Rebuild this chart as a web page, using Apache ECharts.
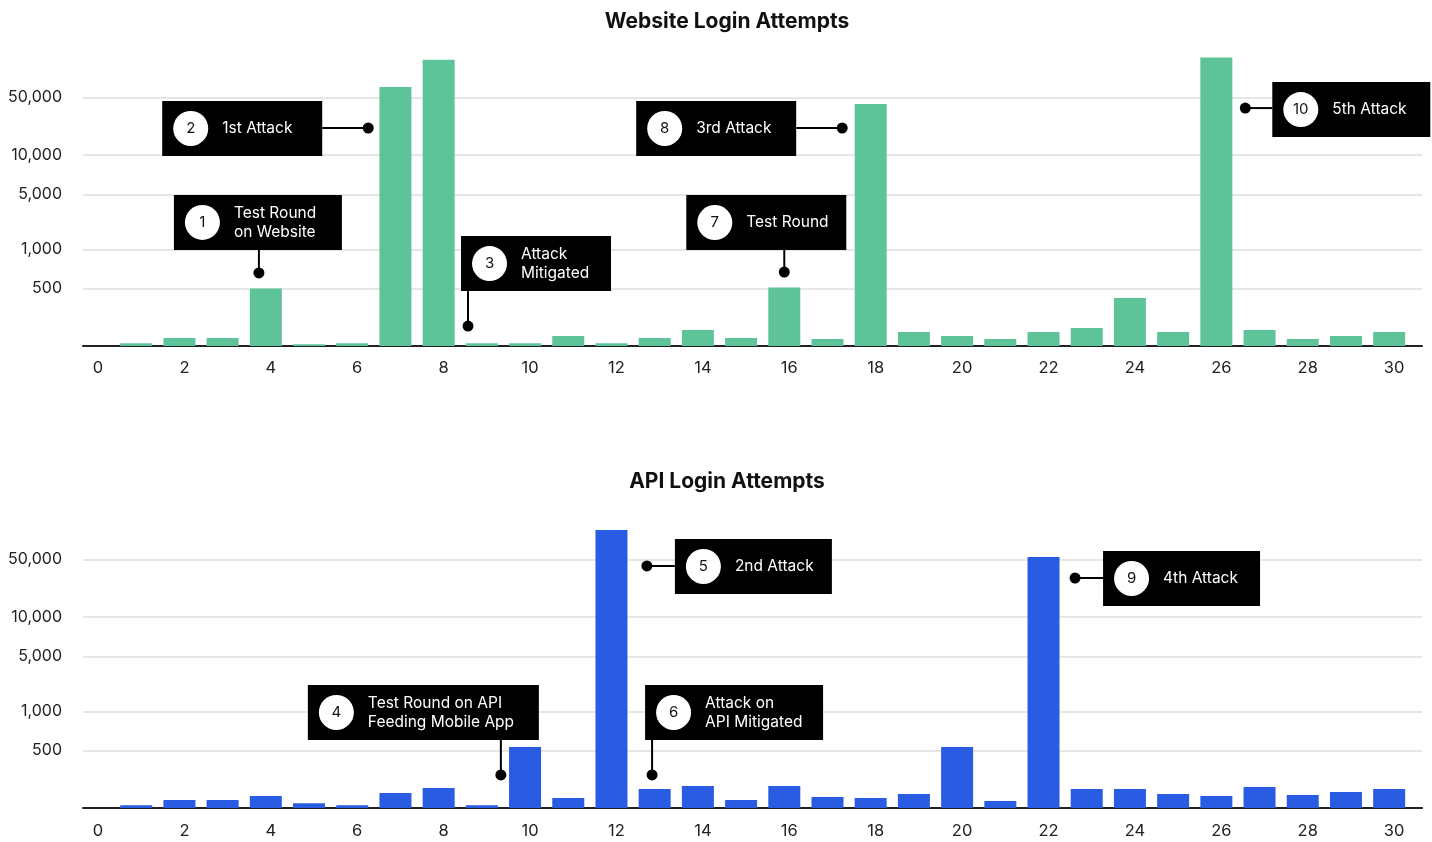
<!DOCTYPE html>
<html>
<head>
<meta charset="utf-8">
<title>Login Attempts</title>
<script src="https://cdn.jsdelivr.net/npm/echarts@6.0.0/dist/echarts.min.js"></script>
<style>
  html, body { margin: 0; padding: 0; background: #fff; }
  #chart { width: 1432px; height: 842px; }
</style>
</head>
<body>
<div id="chart"></div>
<script>
// day of the month
const days = [1, 2, 3, 4, 5, 6, 7, 8, 9, 10, 11, 12, 13, 14, 15, 16, 17, 18, 19, 20, 21, 22, 23, 24, 25, 26, 27, 28, 29, 30];
// login attempts per day
const websiteAttempts = [98, 114, 114, 500, 95, 98, 60300, 98000, 98, 98, 121, 98, 114, 145, 114, 510, 111, 41700, 137, 121, 111, 137, 154, 377, 137, 102000, 145, 111, 121, 137];
const apiAttempts = [98, 114, 114, 129, 104, 98, 141, 163, 98, 532, 121, 84500, 159, 174, 114, 174, 125, 121, 137, 532, 111, 52300, 159, 159, 137, 129, 168, 133, 145, 159];
// tick labels
const xTicks = [0, 2, 4, 6, 8, 10, 12, 14, 16, 18, 20, 22, 24, 26, 28, 30];
const yTicks = [500, 1000, 5000, 10000, 50000];

// the original y axis is log-like but each step between ticks has its own height,
// so the scale is a log interpolation between these steps (height in px of plot)
const scaleValues = [90, 500, 1000, 5000, 10000, 50000, 100000];
const scaleHeights = [0, 57.5, 96.5, 151.5, 191, 248.5, 287.5];
function ladder(v) {
  const lv = Math.log10(v);
  let i = 0;
  while (i < scaleValues.length - 2 && lv > Math.log10(scaleValues[i + 1])) i++;
  const a = Math.log10(scaleValues[i]), b = Math.log10(scaleValues[i + 1]);
  const h = scaleHeights[i] + (lv - a) / (b - a) * (scaleHeights[i + 1] - scaleHeights[i]);
  return Math.max(0, h);
}

// callouts: anchor = [day, attempts], box = offset/size in px from the anchor dot
const notes = [
  { grid: 0, num: '1', text: 'Test Round\non Website', at: [3.84, 660], box: [-85, -78, 168, 55] },
  { grid: 0, num: '2', text: '1st Attack', at: [6.37, 21300], box: [-206, -27, 160, 55] },
  { grid: 0, num: '3', text: 'Attack\nMitigated', at: [8.68, 163], box: [-7, -90, 150, 55] },
  { grid: 0, num: '7', text: 'Test Round', at: [16.0, 670], box: [-98, -77, 160, 55] },
  { grid: 0, num: '8', text: '3rd Attack', at: [17.34, 21300], box: [-206, -27, 160, 55] },
  { grid: 0, num: '10', text: '5th Attack', at: [26.67, 37200], box: [27, -26, 158, 55] },
  { grid: 1, num: '4', text: 'Test Round on API\nFeeding Mobile App', at: [9.44, 241], box: [-193, -90, 231, 55] },
  { grid: 1, num: '5', text: '2nd Attack', at: [12.82, 41700], box: [28, -27, 157, 55] },
  { grid: 1, num: '6', text: 'Attack on\nAPI Mitigated', at: [12.94, 241], box: [-7, -90, 178, 55] },
  { grid: 1, num: '9', text: '4th Attack', at: [22.73, 29800], box: [28, -27, 157, 55] }
];

const PLOT_H = 306;
const yTickHeights = yTicks.map(ladder);

let myChart = echarts.init(document.getElementById('chart'));

function xAxisFor(g) {
  return {
    type: 'value', gridIndex: g, min: -0.2315, max: 30.76,
    axisLine: { onZero: false, lineStyle: { color: '#222', width: 2 } },
    axisTick: { show: false },
    splitLine: { show: false },
    axisLabel: { customValues: xTicks, margin: 14 + g, fontSize: 16.5, color: '#222', padding: [0, 0, 0, 10] }
  };
}

function yAxisFor(g) {
  return {
    type: 'value', gridIndex: g, min: 0, max: PLOT_H,
    axisLine: { show: false },
    axisTick: { show: false, customValues: yTickHeights },
    axisLabel: {
      customValues: yTickHeights, margin: 21, fontSize: 16, color: '#222',
      formatter: v => {
        const i = yTickHeights.findIndex(h => Math.abs(h - v) < 0.01);
        return i < 0 ? '' : yTicks[i].toLocaleString('en-US');
      }
    },
    splitLine: { lineStyle: { color: '#dedede', width: 1.5 } }
  };
}

const titleStyle = { fontSize: 21, fontWeight: 'bold', color: '#111', fontFamily: 'Inter' };

let option = {
  animation: false,
  textStyle: { fontFamily: 'Inter' },
  title: [
    { text: 'Website Login Attempts', left: 722, textAlign: 'center', top: 6, textStyle: titleStyle },
    { text: 'API Login Attempts', left: 722, textAlign: 'center', top: 466, textStyle: titleStyle }
  ],
  grid: [
    { left: 83, right: 10, top: 40, height: PLOT_H },
    { left: 83, right: 10, top: 502, height: PLOT_H }
  ],
  xAxis: [xAxisFor(0), xAxisFor(1)],
  yAxis: [yAxisFor(0), yAxisFor(1)],
  series: [
    {
      type: 'bar', xAxisIndex: 0, yAxisIndex: 0, barWidth: 32,
      itemStyle: { color: '#5fc39a' },
      data: days.map((d, i) => [d, ladder(websiteAttempts[i])])
    },
    {
      type: 'bar', xAxisIndex: 1, yAxisIndex: 1, barWidth: 32,
      itemStyle: { color: '#2a5be3' },
      data: days.map((d, i) => [d, ladder(apiAttempts[i])])
    }
  ]
};
myChart.setOption(option);

// callout boxes, placed from their anchor point on the chart
const graphics = [];
notes.forEach(n => {
  const [px, py] = myChart.convertToPixel({ gridIndex: n.grid }, [n.at[0], ladder(n.at[1])]);
  const bx = px + n.box[0], by = py + n.box[1], bw = n.box[2], bh = n.box[3];
  let seg;
  if (py > by + bh) seg = [px, by + bh, px, py];
  else if (px < bx) seg = [px, py, bx, py];
  else seg = [bx + bw, py, px, py];
  graphics.push(
    { type: 'line', z: 10, shape: { x1: seg[0], y1: seg[1], x2: seg[2], y2: seg[3] }, style: { stroke: '#000', lineWidth: 2 } },
    { type: 'circle', z: 10, shape: { cx: px, cy: py, r: 5.5 }, style: { fill: '#000' } },
    { type: 'rect', z: 11, shape: { x: bx, y: by, width: bw, height: bh }, style: { fill: '#000' } },
    { type: 'circle', z: 12, shape: { cx: bx + 28.5, cy: by + bh / 2, r: 17.5 }, style: { fill: '#fff' } },
    { type: 'text', z: 13, x: bx + 28.5, y: by + bh / 2,
      style: { text: n.num, fill: '#111', fontSize: 15, fontFamily: 'Inter', align: 'center', verticalAlign: 'middle' } },
    { type: 'text', z: 13, x: bx + 60, y: by + bh / 2,
      style: { text: n.text, fill: '#fff', fontSize: 15.5, fontFamily: 'Inter', verticalAlign: 'middle', lineHeight: 19 } }
  );
});
myChart.setOption({ graphic: graphics });
</script>
</body>
</html>
